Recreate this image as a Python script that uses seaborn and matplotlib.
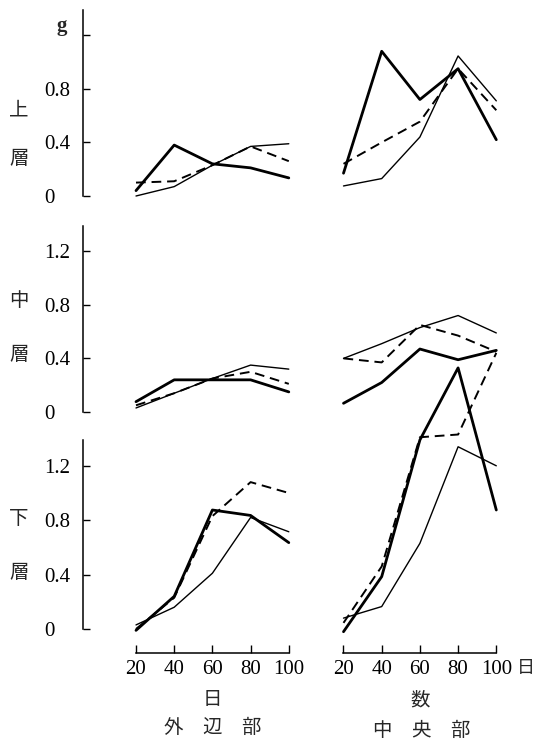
import matplotlib
matplotlib.use("Agg")
import matplotlib.pyplot as plt
import seaborn as sns
import pandas as pd

# days after planting
days = [20, 40, 60, 80, 100]

# 上層 (upper layer), g
upper_outer_thick = [0.04, 0.38, 0.24, 0.21, 0.135]
upper_outer_thin = [0.0, 0.07, 0.23, 0.37, 0.39]
upper_outer_dash = [0.10, 0.11, 0.23, 0.37, 0.26]
upper_center_thick = [0.17, 1.08, 0.72, 0.95, 0.42]
upper_center_thin = [0.075, 0.13, 0.44, 1.045, 0.71]
upper_center_dash = [0.24, 0.40, 0.555, 0.95, 0.64]

# 中層 (middle layer)
middle_outer_thick = [0.077, 0.24, 0.24, 0.24, 0.15]
middle_outer_thin = [0.03, 0.14, 0.25, 0.35, 0.32]
middle_outer_dash = [0.05, 0.14, 0.25, 0.30, 0.21]
middle_center_thick = [0.065, 0.22, 0.47, 0.39, 0.46]
middle_center_thin = [0.40, 0.51, 0.63, 0.72, 0.59]
middle_center_dash = [0.40, 0.37, 0.65, 0.57, 0.45]

# 下層 (lower layer)
lower_outer_thick = [-0.01, 0.24, 0.875, 0.835, 0.635]
lower_outer_thin = [0.03, 0.16, 0.41, 0.82, 0.715]
lower_outer_dash = [0.0, 0.23, 0.83, 1.08, 1.0]
lower_center_thick = [-0.02, 0.385, 1.39, 1.92, 0.875]
lower_center_thin = [0.08, 0.165, 0.63, 1.34, 1.2]
lower_center_dash = [0.045, 0.46, 1.41, 1.43, 2.03]

row_labels = [("上", "層"), ("中", "層"), ("下", "層")]
y_ticks = [0, 0.4, 0.8, 1.2]
y_ticklabels_top = ["0", "0.4", "0.8", ""]
y_ticklabels = ["0", "0.4", "0.8", "1.2"]

panels = [
    [(upper_outer_thick, upper_outer_thin, upper_outer_dash),
     (upper_center_thick, upper_center_thin, upper_center_dash)],
    [(middle_outer_thick, middle_outer_thin, middle_outer_dash),
     (middle_center_thick, middle_center_thin, middle_center_dash)],
    [(lower_outer_thick, lower_outer_thin, lower_outer_dash),
     (lower_center_thick, lower_center_thin, lower_center_dash)],
]

sns.set_style("white")
plt.rcParams["font.family"] = ["Liberation Serif", "Noto Sans CJK JP"]
cjk = ["Noto Sans CJK JP", "DejaVu Sans"]

W, H = 536, 745
fig = plt.figure(figsize=(W / 100, H / 100), dpi=100)

ppd = 1.91                       # pixels per day
x20 = [136, 343.5]               # pixel position of day 20 in each column
col_px = [(83, 292), (330, 502)]
row_zero = [196, 412, 629]       # pixel y of value 0
row_scale = [134, 134, 136]      # pixels per gram
ytop = 1.39

for r in range(3):
    for c in range(2):
        lpx, rpx = col_px[c]
        h = ytop * row_scale[r]
        ax = fig.add_axes([lpx / W, (H - row_zero[r]) / H, (rpx - lpx) / W, h / H])
        ax.patch.set_alpha(0)
        ax.set_xlim(20 - (x20[c] - lpx) / ppd, 20 + (rpx - x20[c]) / ppd)
        ax.set_ylim(0, ytop)

        thick, thin, dash = panels[r][c]
        df = pd.DataFrame({"day": days, "thick": thick, "thin": thin, "dash": dash})
        sns.lineplot(data=df, x="day", y="thin", ax=ax, color="black", lw=1.0, clip_on=False)
        sns.lineplot(data=df, x="day", y="dash", ax=ax, color="black", lw=1.4,
                     dashes=False, linestyle=(0, (5, 3)), clip_on=False)
        sns.lineplot(data=df, x="day", y="thick", ax=ax, color="black", lw=2.0, clip_on=False)

        for s in ["top", "right"]:
            ax.spines[s].set_visible(False)
        ax.set_xlabel("")
        ax.set_ylabel("")

        if c == 0:
            ax.spines["left"].set_visible(True)
            ax.spines["left"].set_linewidth(1.1)
            ax.spines["left"].set_color("black")
            ax.spines["left"].set_bounds(0, ytop)
            ax.set_yticks(y_ticks)
            ax.set_yticklabels(y_ticklabels_top if r == 0 else y_ticklabels)
            ax.tick_params(axis="y", left=True, direction="in", length=5, width=1,
                           pad=28, labelsize=15, colors="black")
            for lab in ax.get_yticklabels():
                lab.set_horizontalalignment("left")
        else:
            ax.spines["left"].set_visible(False)
            ax.set_yticks([])

        if r == 2:
            ax.spines["bottom"].set_visible(True)
            ax.spines["bottom"].set_color("black")
            ax.spines["bottom"].set_linewidth(1.1)
            ax.spines["bottom"].set_position(("outward", 17))
            ax.spines["bottom"].set_bounds(20, 100)
            ax.set_xticks(days)
            ax.set_xticklabels([str(d) for d in days])
            ax.tick_params(axis="x", bottom=True, direction="in", length=6, width=1,
                           pad=5, labelsize=15, colors="black")
        else:
            ax.spines["bottom"].set_visible(False)
            ax.set_xticks([])

        if r == 2 and c == 1:
            ax.annotate("日", xy=(100, 0), xycoords="data", xytext=(15, -28),
                        textcoords="offset points", ha="left", va="center",
                        fontsize=13, family=cjk, annotation_clip=False)


def ftext(x, y, s, **kw):
    fig.text(x / W, 1 - y / H, s, ha="center", va="center", **kw)


for (a, b), ya, yb in zip(row_labels, [110, 300, 518], [158, 355, 573]):
    ftext(19, ya, a, fontsize=14, family=cjk)
    ftext(19, yb, b, fontsize=14, family=cjk)

ftext(62, 26, "g", fontsize=15, fontweight="bold")
ftext(212, 700, "日", fontsize=14, family=cjk)
ftext(213, 727, "外　辺　部", fontsize=14, family=cjk)
ftext(420, 700, "数", fontsize=14, family=cjk)
ftext(422, 730, "中　央　部", fontsize=14, family=cjk)

fig.savefig("out.png", dpi=100)
